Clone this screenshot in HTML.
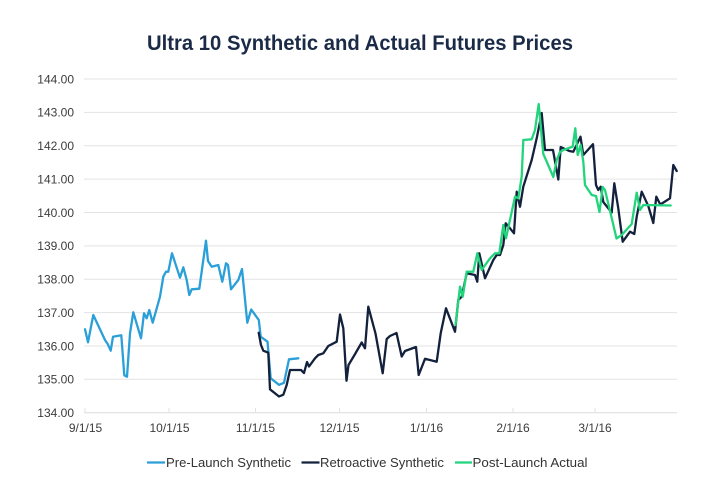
<!DOCTYPE html>
<html>
<head>
<meta charset="utf-8">
<style>
  html,body{margin:0;padding:0;background:#ffffff;}
  svg{display:block;}
  text{font-family:"Liberation Sans", sans-serif;}
</style>
</head>
<body>
<svg width="720" height="500" viewBox="0 0 720 500" xmlns="http://www.w3.org/2000/svg">
  <rect width="720" height="500" fill="#ffffff"/>
  <!-- Title -->
  <text x="360" y="50" text-anchor="middle" font-size="21" font-weight="bold" fill="#1b2a47" textLength="426" lengthAdjust="spacingAndGlyphs">Ultra 10 Synthetic and Actual Futures Prices</text>

  <!-- Gridlines -->
  <g stroke="#e3e3e3" stroke-width="1">
    <line x1="84" y1="79.0" x2="677" y2="79.0"/>
    <line x1="84" y1="112.4" x2="677" y2="112.4"/>
    <line x1="84" y1="145.7" x2="677" y2="145.7"/>
    <line x1="84" y1="179.1" x2="677" y2="179.1"/>
    <line x1="84" y1="212.5" x2="677" y2="212.5"/>
    <line x1="84" y1="245.9" x2="677" y2="245.9"/>
    <line x1="84" y1="279.2" x2="677" y2="279.2"/>
    <line x1="84" y1="312.6" x2="677" y2="312.6"/>
    <line x1="84" y1="346.0" x2="677" y2="346.0"/>
    <line x1="84" y1="379.3" x2="677" y2="379.3"/>
    <line x1="84" y1="412.7" x2="677" y2="412.7" stroke="#dcdcdc"/>
  </g>
  <!-- x ticks -->
  <g stroke="#e2e2e2" stroke-width="1">
    <line x1="85" y1="408" x2="85" y2="413"/>
    <line x1="169" y1="408" x2="169" y2="413"/>
    <line x1="255.5" y1="408" x2="255.5" y2="413"/>
    <line x1="339.5" y1="408" x2="339.5" y2="413"/>
    <line x1="426.5" y1="408" x2="426.5" y2="413"/>
    <line x1="513" y1="408" x2="513" y2="413"/>
    <line x1="595" y1="408" x2="595" y2="413"/>
  </g>

  <!-- Y labels -->
  <g font-size="12" fill="#3c3c3c" text-anchor="end">
    <text x="74" y="83.3">144.00</text>
    <text x="74" y="116.7">143.00</text>
    <text x="74" y="150.0">142.00</text>
    <text x="74" y="183.4">141.00</text>
    <text x="74" y="216.8">140.00</text>
    <text x="74" y="250.2">139.00</text>
    <text x="74" y="283.5">138.00</text>
    <text x="74" y="316.9">137.00</text>
    <text x="74" y="350.3">136.00</text>
    <text x="74" y="383.6">135.00</text>
    <text x="74" y="417.0">134.00</text>
  </g>

  <!-- X labels -->
  <g font-size="12" fill="#3c3c3c" text-anchor="middle">
    <text x="85.5" y="432">9/1/15</text>
    <text x="169.5" y="432">10/1/15</text>
    <text x="255.5" y="432">11/1/15</text>
    <text x="339.5" y="432">12/1/15</text>
    <text x="426.5" y="432">1/1/16</text>
    <text x="513" y="432">2/1/16</text>
    <text x="595" y="432">3/1/16</text>
  </g>

  <!-- Pre-Launch Synthetic -->
  <polyline fill="none" stroke="#2a9fd8" stroke-width="2.3" stroke-linejoin="round" stroke-linecap="round"
    points="85,329.3 88,342.3 93.3,315 105,340 107.7,344 110.7,350.7 113,336.7 121.3,335.3 124.3,375.3 127,376.7 130,333.3 133.3,312.3 141,338.3 144,313.3 146.7,318.3 149.3,310 152.7,322.7 160,296.7 163.3,276.7 166,271.7 168.3,271.7 172,253.3 180,277.7 183.3,267.3 186.7,280 189.3,295 191.7,289.3 199.3,288.7 206,240.7 208,261 211.7,266.7 218.3,265 222.3,281.7 226,263.3 228,265 231,289.3 238.3,280 242,269 247.3,322.7 251.2,309.5 258.8,320 260.7,336.7 267.5,341.7 270.7,378.3 279,384.8 284,382.8 289,359.3 298.3,358.3"/>

  <!-- Retroactive Synthetic -->
  <polyline fill="none" stroke="#13213c" stroke-width="2.3" stroke-linejoin="round" stroke-linecap="round"
    points="258.7,332.7 261,345 263.3,350.7 268.3,352.7 270,389.3 279,396.5 283.3,394.7 286.7,385 290,370 301,370 304,373 307,362 309,366.5 315,358.3 318.3,355 323.3,353.3 328.3,346 336.7,341.7 340,314.5 343.3,328.3 346.5,380.7 348.5,365 354.5,355 361.7,342.5 365,348.3 368.3,306.7 375.5,333.5 382.7,373.3 386.7,339 390,336 396.5,333 401.7,356.5 405,351 416,347 418.7,375 425,358.8 436.7,361.7 440.7,333.3 446,308.3 455,331.7 458.3,300 461.7,296.7 466.7,273.3 475,275 477.3,281.7 479.3,253.3 485,278.3 493.3,260 496.7,255 500,255 503.3,245 505.7,223.3 510,228.3 514,233.3 516.7,191.7 520,206.7 523.3,186.7 531.7,160 536.7,138.3 541.7,113 545,150 553,150 558.3,179.5 560.7,147 569.3,151 573.3,151.7 580.5,136.7 583.3,155 593,144.2 596,185 598.3,190 600.7,186.7 603.3,202 611.7,212.5 614.3,183.3 618.3,208.5 622.7,241.7 630,231.7 634.3,234 636.7,216.7 641.7,191.7 648.3,206 653.3,223 656.3,196.7 660.3,204.5 670,198.3 673.3,165 676.7,171"/>

  <!-- Post-Launch Actual -->
  <polyline fill="none" stroke="#22d47c" stroke-width="2.3" stroke-linejoin="round" stroke-linecap="round"
    points="455.5,325 460,286.7 462.7,296.7 466.7,271.7 473.3,271.7 477.3,253.3 481.7,270 490,258.3 495,253.3 499.3,253.3 503.3,225 506,238.3 515,196.7 518.3,198.3 521.7,176.7 523.3,140 531.7,139.3 535,130 538.7,104 543.3,154 546,160 553.3,177 556.7,160 560,152 563.3,150 572.7,146.7 575.3,128.3 577.7,155 580.7,145 583.3,161.7 585,185 591.7,195 596,196 599.5,212 602.7,187 605,190 611.7,218 616.5,238.5 621.7,235 631.7,224 636.7,192.7 640,210 643.3,205 670.7,205.5"/>

  <!-- Legend -->
  <line x1="147" y1="462.5" x2="165" y2="462.5" stroke="#2a9fd8" stroke-width="2.3"/>
  <text x="166" y="467" font-size="13" fill="#333333" textLength="125" lengthAdjust="spacingAndGlyphs">Pre-Launch Synthetic</text>
  <line x1="301.5" y1="462.5" x2="319.5" y2="462.5" stroke="#13213c" stroke-width="2.3"/>
  <text x="320" y="467" font-size="13" fill="#333333" textLength="124" lengthAdjust="spacingAndGlyphs">Retroactive Synthetic</text>
  <line x1="455" y1="462.5" x2="472" y2="462.5" stroke="#22d47c" stroke-width="2.3"/>
  <text x="472.5" y="467" font-size="13" fill="#333333" textLength="115" lengthAdjust="spacingAndGlyphs">Post-Launch Actual</text>
</svg>
</body>
</html>
